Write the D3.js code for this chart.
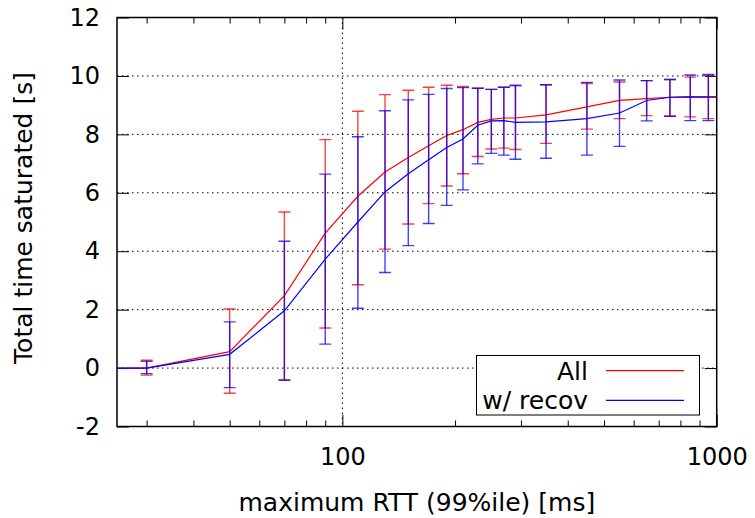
<!DOCTYPE html>
<html>
<head>
<meta charset="utf-8">
<script src="https://d3js.org/d3.v7.min.js"></script>
<style>
  body { margin: 0; background: #fff; }
  svg text { font-family: 'DejaVu Sans', sans-serif; fill: #000; }
  .axis text { font-size: 24px; }
  .axis line { stroke: #000; stroke-width: 1; }
  .grid { stroke: #000; stroke-width: 1; stroke-dasharray: 1.5,3.5; }
</style>
</head>
<body>
<script>
// RTT (99%ile) values, ms; 10 and 1050 sit just outside the visible range
var rtt = [10, 30, 50, 70, 90, 110, 130, 150, 170, 190, 210, 230, 250, 270, 290, 350, 450, 550, 650, 750, 850, 950, 1050];

// "All"
var allMean = [0, 0, 0.56, 2.48, 4.62, 5.88, 6.71, 7.21, 7.61, 7.96, 8.16, 8.41, 8.51, 8.56, 8.56, 8.67, 8.94, 9.16, 9.22, 9.27, 9.28, 9.29, 9.29];
var allLow  = [0, -0.24, -0.86, -0.40, 1.37, 2.85, 4.07, 4.93, 5.63, 6.23, 6.65, 7.24, 7.50, 7.53, 7.48, 7.69, 8.18, 8.54, 8.64, 8.62, 8.60, 8.54, 9.29];
var allHigh = [0, 0.27, 2.02, 5.34, 7.82, 8.79, 9.36, 9.51, 9.61, 9.68, 9.64, 9.58, 9.54, 9.61, 9.66, 9.70, 9.74, 9.79, 9.84, 9.88, 9.96, 10.02, 9.29];

// "w/ recov"
var recMean = [0, 0, 0.47, 1.96, 3.73, 5.00, 6.03, 6.65, 7.13, 7.55, 7.84, 8.31, 8.46, 8.47, 8.41, 8.43, 8.54, 8.73, 9.16, 9.27, 9.28, 9.27, 9.27];
var recLow  = [0, -0.19, -0.67, -0.42, 0.82, 2.05, 3.27, 4.19, 4.95, 5.57, 6.10, 6.99, 7.35, 7.29, 7.15, 7.18, 7.29, 7.59, 8.46, 8.62, 8.47, 8.47, 9.27];
var recHigh = [0, 0.23, 1.58, 4.34, 6.64, 7.92, 8.81, 9.18, 9.37, 9.57, 9.60, 9.58, 9.54, 9.61, 9.68, 9.70, 9.78, 9.86, 9.84, 9.88, 10.03, 10.05, 9.27];

var yTicks = [-2, 0, 2, 4, 6, 8, 10, 12];
var xMajor = [100, 1000];
var xMinor = [30, 40, 50, 60, 70, 80, 90, 200, 300, 400, 500, 600, 700, 800, 900];

var series = [
  {name: "All", color: "#ff0000", mean: allMean, low: allLow, high: allHigh},
  {name: "w/ recov", color: "#0000ff", mean: recMean, low: recLow, high: recHigh}
];

var W = 755, H = 518;
var pLeft = 117, pRight = 716.7, pTop = 17.5, pBottom = 426.5;

var svg = d3.select("body").append("svg")
    .attr("width", W)
    .attr("height", H);

var x = d3.scaleLog().domain([25, 1000]).range([pLeft, pRight]);
var y = d3.scaleLinear().domain([-2, 12]).range([pBottom, pTop]);

// plain hyphen, like gnuplot
var plain = function(d){ return String(d); };

svg.append("clipPath").attr("id", "clip")
  .append("rect")
    .attr("x", pLeft).attr("y", pTop)
    .attr("width", pRight - pLeft).attr("height", pBottom - pTop);

// grid
svg.selectAll(".gy").data(yTicks.filter(function(d){ return d > -2 && d < 12; }))
  .enter().append("line")
    .attr("class", "grid")
    .attr("x1", pLeft).attr("x2", pRight)
    .attr("y1", function(d){ return y(d); }).attr("y2", function(d){ return y(d); });

svg.append("line")
    .attr("class", "grid")
    .attr("x1", x(100)).attr("x2", x(100))
    .attr("y1", pTop).attr("y2", pBottom);

// axes
function tidy(g){
  g.select(".domain").remove();
  g.attr("font-family", null).attr("font-size", null);
}

svg.append("g").attr("class", "axis")
    .attr("transform", "translate(0," + pBottom + ")")
    .call(d3.axisBottom(x).tickValues(xMajor).tickFormat(plain).tickSize(-12).tickPadding(21))
    .call(tidy);

svg.append("g").attr("class", "axis")
    .attr("transform", "translate(0," + pBottom + ")")
    .call(d3.axisBottom(x).tickValues(xMinor).tickFormat("").tickSize(-6))
    .call(tidy);

svg.append("g").attr("class", "axis")
    .attr("transform", "translate(0," + pTop + ")")
    .call(d3.axisTop(x).tickValues(xMajor).tickFormat("").tickSize(-12))
    .call(tidy);

svg.append("g").attr("class", "axis")
    .attr("transform", "translate(0," + pTop + ")")
    .call(d3.axisTop(x).tickValues(xMinor).tickFormat("").tickSize(-6))
    .call(tidy);

svg.append("g").attr("class", "axis")
    .attr("transform", "translate(" + pLeft + ",0)")
    .call(d3.axisLeft(y).tickValues(yTicks).tickFormat(plain).tickSize(-12).tickPadding(17))
    .call(tidy);

svg.append("g").attr("class", "axis")
    .attr("transform", "translate(" + pRight + ",0)")
    .call(d3.axisRight(y).tickValues(yTicks).tickFormat("").tickSize(-12))
    .call(tidy);

// series
var plot = svg.append("g").attr("clip-path", "url(#clip)");

var line = d3.line()
    .x(function(d){ return x(d.x); })
    .y(function(d){ return y(d.m); });

series.forEach(function(s){
  var pts = rtt.map(function(v, i){
    return {x: v, m: s.mean[i], lo: s.low[i], hi: s.high[i]};
  });

  plot.append("path")
      .datum(pts)
      .attr("d", line)
      .attr("fill", "none")
      .attr("stroke", s.color)
      .attr("stroke-width", 1.2);

  var eb = plot.append("g")
      .attr("stroke", s.color)
      .attr("stroke-opacity", 0.75)
      .attr("stroke-width", 1.4);

  var bars = eb.selectAll("g").data(pts).enter().append("g");
  bars.append("line")
      .attr("x1", function(d){ return x(d.x); }).attr("x2", function(d){ return x(d.x); })
      .attr("y1", function(d){ return y(d.lo); }).attr("y2", function(d){ return y(d.hi); });
  bars.append("line")
      .attr("x1", function(d){ return x(d.x) - 6; }).attr("x2", function(d){ return x(d.x) + 6; })
      .attr("y1", function(d){ return y(d.lo); }).attr("y2", function(d){ return y(d.lo); });
  bars.append("line")
      .attr("x1", function(d){ return x(d.x) - 6; }).attr("x2", function(d){ return x(d.x) + 6; })
      .attr("y1", function(d){ return y(d.hi); }).attr("y2", function(d){ return y(d.hi); });
});

// border
svg.append("rect")
    .attr("x", pLeft).attr("y", pTop)
    .attr("width", pRight - pLeft).attr("height", pBottom - pTop)
    .attr("fill", "none")
    .attr("stroke", "#000")
    .attr("stroke-width", 1.5);

// legend
var key = svg.append("g");
key.append("rect")
    .attr("x", 476.5).attr("y", 355.5)
    .attr("width", 223).attr("height", 59.5)
    .attr("fill", "#fff")
    .attr("stroke", "#000")
    .attr("stroke-width", 1);

series.forEach(function(s, i){
  var cy = 370.7 + i * 29.6;
  key.append("text")
      .attr("x", 588).attr("y", cy + 9)
      .attr("text-anchor", "end")
      .attr("font-size", 25)
      .text(s.name);
  key.append("line")
      .attr("x1", 606).attr("x2", 684)
      .attr("y1", cy).attr("y2", cy)
      .attr("stroke", s.color)
      .attr("stroke-width", 1.2);
});

// axis titles
svg.append("text")
    .attr("x", (pLeft + pRight) / 2).attr("y", 511)
    .attr("text-anchor", "middle")
    .attr("font-size", 25)
    .text("maximum RTT (99%ile) [ms]");

svg.append("text")
    .attr("transform", "translate(32," + ((pTop + pBottom) / 2 - 4) + ") rotate(-90)")
    .attr("text-anchor", "middle")
    .attr("font-size", 25)
    .text("Total time saturated [s]");
</script>
</body>
</html>
